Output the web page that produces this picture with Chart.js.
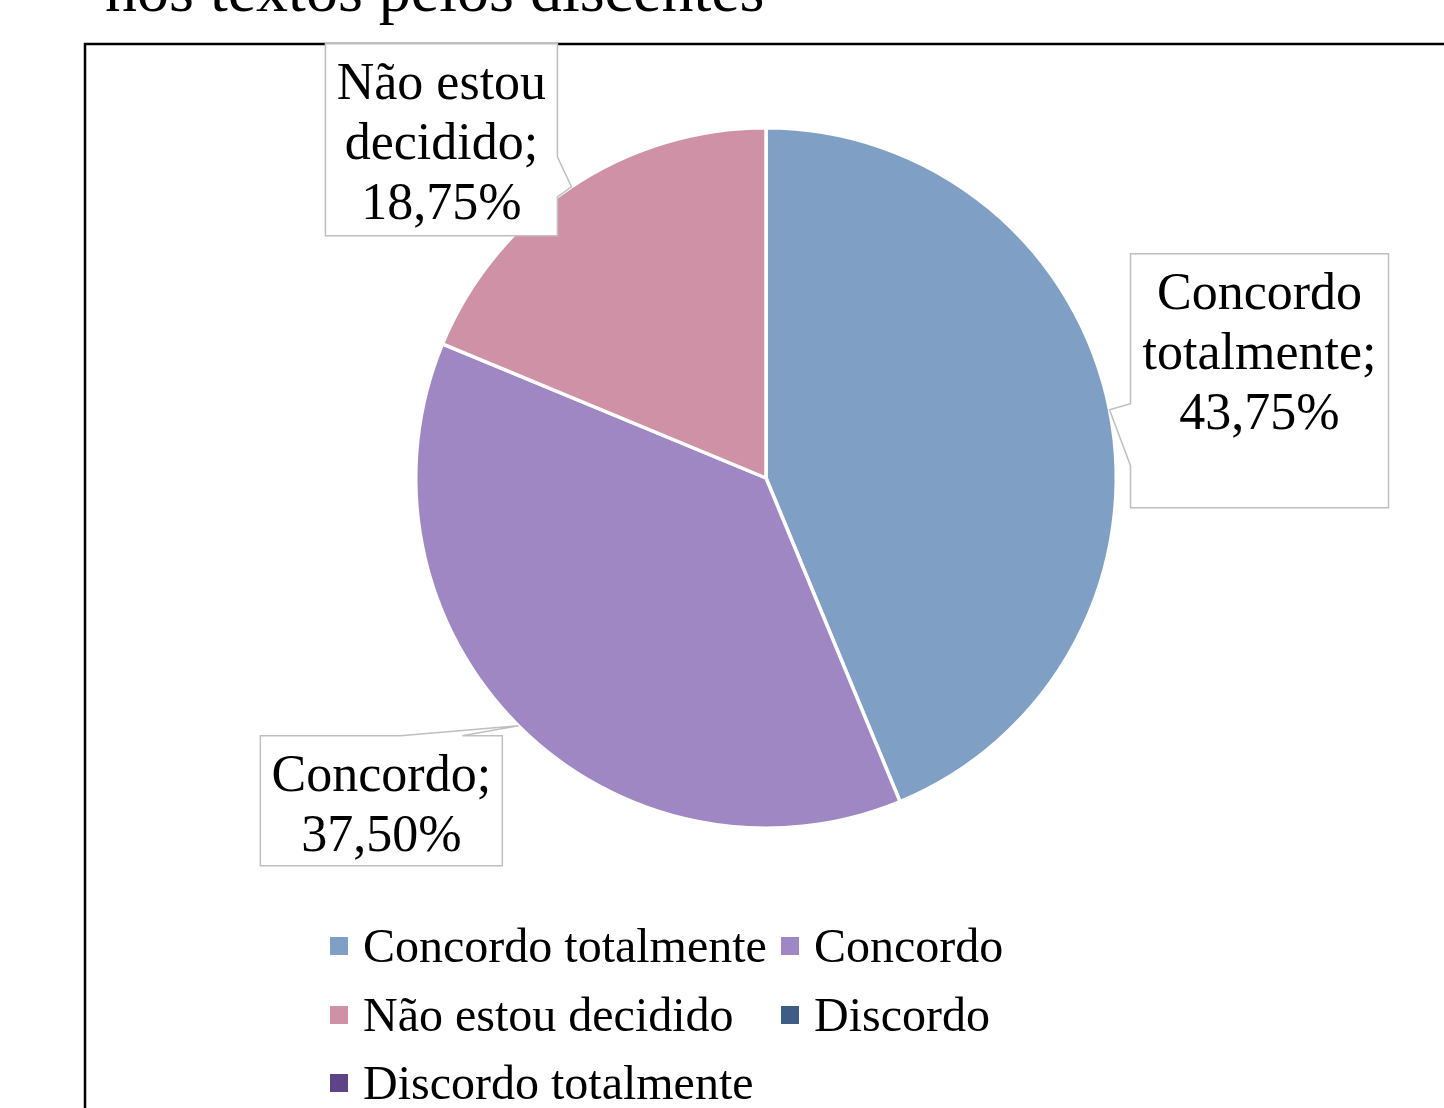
<!DOCTYPE html>
<html>
<head>
<meta charset="utf-8">
<script src="https://cdn.jsdelivr.net/npm/chart.js@4.4.0/dist/chart.umd.min.js"></script>
<style>
  html, body { margin: 0; padding: 0; background: #ffffff; }
  #wrap { position: relative; width: 1444px; height: 1108px; overflow: hidden; }
</style>
</head>
<body>
<div id="wrap"><canvas id="grafico"></canvas></div>
<script>
// Categorias e valores (percentuais)
const categorias = ['Concordo totalmente', 'Concordo', 'Não estou decidido', 'Discordo', 'Discordo totalmente'];
const percentuais = [43.75, 37.50, 18.75, 0, 0];
const cores = ['#7F9FC4', '#9E87C2', '#CF91A6', '#3F5D84', '#5D4387'];
const tituloVisivel = 'nos textos pelos discentes';

const fonteSerif = '"Liberation Serif", "Times New Roman", serif';

// Caixas dos rótulos: posição relativa à ponta (borda da fatia no ângulo médio)
const caixasRotulo = [
  { dx: 21, dy: -156, w: 258, h: 254, lado: 'esquerda', p1: -6, p2: 56 },
  { dx: -258, dy: 10, w: 242, h: 130, lado: 'topo', p1: -118, p2: -56 },
  { dx: -246, dy: -143, w: 232, h: 192, lado: 'direita', p1: -30, p2: 10 },
];

function formataPct(v) {
  return v.toFixed(2).replace('.', ',') + '%';
}

function quebraLinhas(ctx, texto, maxW) {
  const palavras = texto.split(' ');
  const linhas = [];
  let atual = '';
  palavras.forEach(p => {
    const teste = atual ? atual + ' ' + p : p;
    if (ctx.measureText(teste).width > maxW && atual) {
      linhas.push(atual);
      atual = p;
    } else {
      atual = teste;
    }
  });
  if (atual) linhas.push(atual);
  return linhas;
}

// Plugin: título cortado, moldura, rótulos com caixa e legenda em colunas
const pluginDecoracao = {
  id: 'decoracao',
  beforeDraw(chart) {
    const ctx = chart.ctx;
    ctx.save();
    ctx.fillStyle = '#ffffff';
    ctx.fillRect(0, 0, chart.width, chart.height);
    ctx.fillStyle = '#000000';
    ctx.font = '64px ' + fonteSerif;
    ctx.textAlign = 'left';
    ctx.textBaseline = 'alphabetic';
    ctx.fillText(tituloVisivel, 105, 11);
    ctx.strokeStyle = '#000000';
    ctx.lineWidth = 2.5;
    ctx.strokeRect(85, 44, chart.width + 20, chart.height + 20);
    ctx.restore();
  },
  afterDraw(chart) {
    const ctx = chart.ctx;
    const meta = chart.getDatasetMeta(0);
    ctx.save();
    // rótulos de dados
    let k = 0;
    meta.data.forEach((arc, i) => {
      const v = percentuais[i];
      if (!v) return;
      const cfg = caixasRotulo[k++];
      const p = arc.getProps(['x', 'y', 'startAngle', 'endAngle', 'outerRadius'], true);
      const meio = (p.startAngle + p.endAngle) / 2;
      const tx = p.x + Math.cos(meio) * p.outerRadius;
      const ty = p.y + Math.sin(meio) * p.outerRadius;
      const L = tx + cfg.dx, T = ty + cfg.dy, R = L + cfg.w, B = T + cfg.h;
      ctx.beginPath();
      if (cfg.lado === 'esquerda') {
        ctx.moveTo(L, T); ctx.lineTo(R, T); ctx.lineTo(R, B); ctx.lineTo(L, B);
        ctx.lineTo(L, ty + cfg.p2); ctx.lineTo(tx, ty); ctx.lineTo(L, ty + cfg.p1);
      } else if (cfg.lado === 'topo') {
        ctx.moveTo(L, T); ctx.lineTo(tx + cfg.p1, T); ctx.lineTo(tx, ty); ctx.lineTo(tx + cfg.p2, T);
        ctx.lineTo(R, T); ctx.lineTo(R, B); ctx.lineTo(L, B);
      } else {
        ctx.moveTo(L, T); ctx.lineTo(R, T); ctx.lineTo(R, ty + cfg.p1); ctx.lineTo(tx, ty);
        ctx.lineTo(R, ty + cfg.p2); ctx.lineTo(R, B); ctx.lineTo(L, B);
      }
      ctx.closePath();
      ctx.fillStyle = '#ffffff';
      ctx.fill();
      ctx.strokeStyle = '#BFBFBF';
      ctx.lineWidth = 1.5;
      ctx.stroke();
      ctx.fillStyle = '#000000';
      ctx.font = '52px ' + fonteSerif;
      ctx.textAlign = 'center';
      ctx.textBaseline = 'middle';
      const linhas = quebraLinhas(ctx, categorias[i] + '; ' + formataPct(v), cfg.w - 16);
      linhas.forEach((ln, j) => ctx.fillText(ln, (L + R) / 2, T + 42 + j * 60));
    });
    // legenda em duas colunas
    const colX = [330, 781];
    const linY = [946, 1015, 1083];
    ctx.font = '48px ' + fonteSerif;
    ctx.textAlign = 'left';
    ctx.textBaseline = 'middle';
    categorias.forEach((c, i) => {
      const x = colX[i % 2], y = linY[Math.floor(i / 2)];
      ctx.fillStyle = cores[i];
      ctx.fillRect(x, y - 9, 18, 18);
      ctx.fillStyle = '#000000';
      ctx.fillText(c, x + 33, y + 3);
    });
    ctx.restore();
  }
};

const ctxGrafico = document.getElementById('grafico').getContext('2d');

new Chart(ctxGrafico, {
  type: 'pie',
  data: {
    labels: categorias,
    datasets: [{
      data: percentuais,
      backgroundColor: cores,
      borderColor: '#ffffff',
      borderWidth: 3.5,
    }],
  },
  options: {
    responsive: true,
    maintainAspectRatio: false,
    animation: false,
    layout: {
      padding: { left: 414, right: 326, top: 126, bottom: 278 },
    },
    plugins: {
      legend: { display: false },
      title: { display: false },
      tooltip: { enabled: false },
    },
  },
  plugins: [pluginDecoracao],
});
</script>
</body>
</html>
